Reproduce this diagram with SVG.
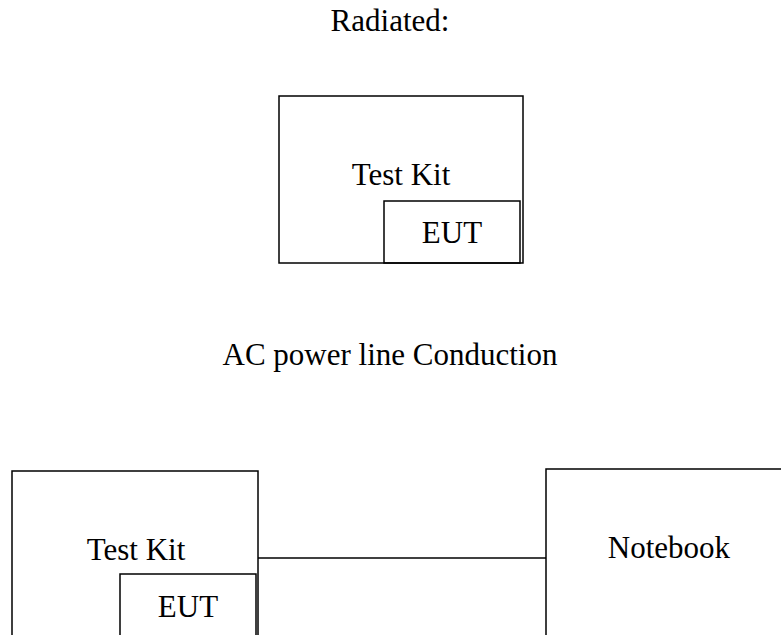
<svg xmlns="http://www.w3.org/2000/svg" width="781" height="635" viewBox="0 0 781 635">
<style>
.box{fill:none;stroke:#000;stroke-width:1.5}
.t{font-family:"Liberation Serif","Times New Roman",serif;font-size:31px;fill:#000;text-anchor:middle}
</style>
<rect width="781" height="635" fill="#fff"/>
<text class="t" x="390" y="31">Radiated:</text>
<text class="t" x="390" y="365">AC power line Conduction</text>
<g id="testkit-radiated">
<rect class="box" x="279" y="96" width="244" height="167"/>
<text class="t" x="401" y="185">Test Kit</text>
</g>
<g id="eut-radiated">
<rect class="box" x="384" y="201" width="136" height="62"/>
<text class="t" x="452" y="243">EUT</text>
</g>
<g id="testkit-conduction">
<rect class="box" x="12" y="471" width="246" height="200"/>
<text class="t" x="136" y="560">Test Kit</text>
</g>
<g id="eut-conduction">
<rect class="box" x="120" y="574" width="136" height="100"/>
<text class="t" x="188" y="617">EUT</text>
</g>
<g id="notebook">
<rect class="box" x="546" y="469" width="260" height="200"/>
<text class="t" x="669" y="558">Notebook</text>
</g>
<g id="connectors">
<line class="box" x1="258" y1="558" x2="546" y2="558"/>
</g>
</svg>
